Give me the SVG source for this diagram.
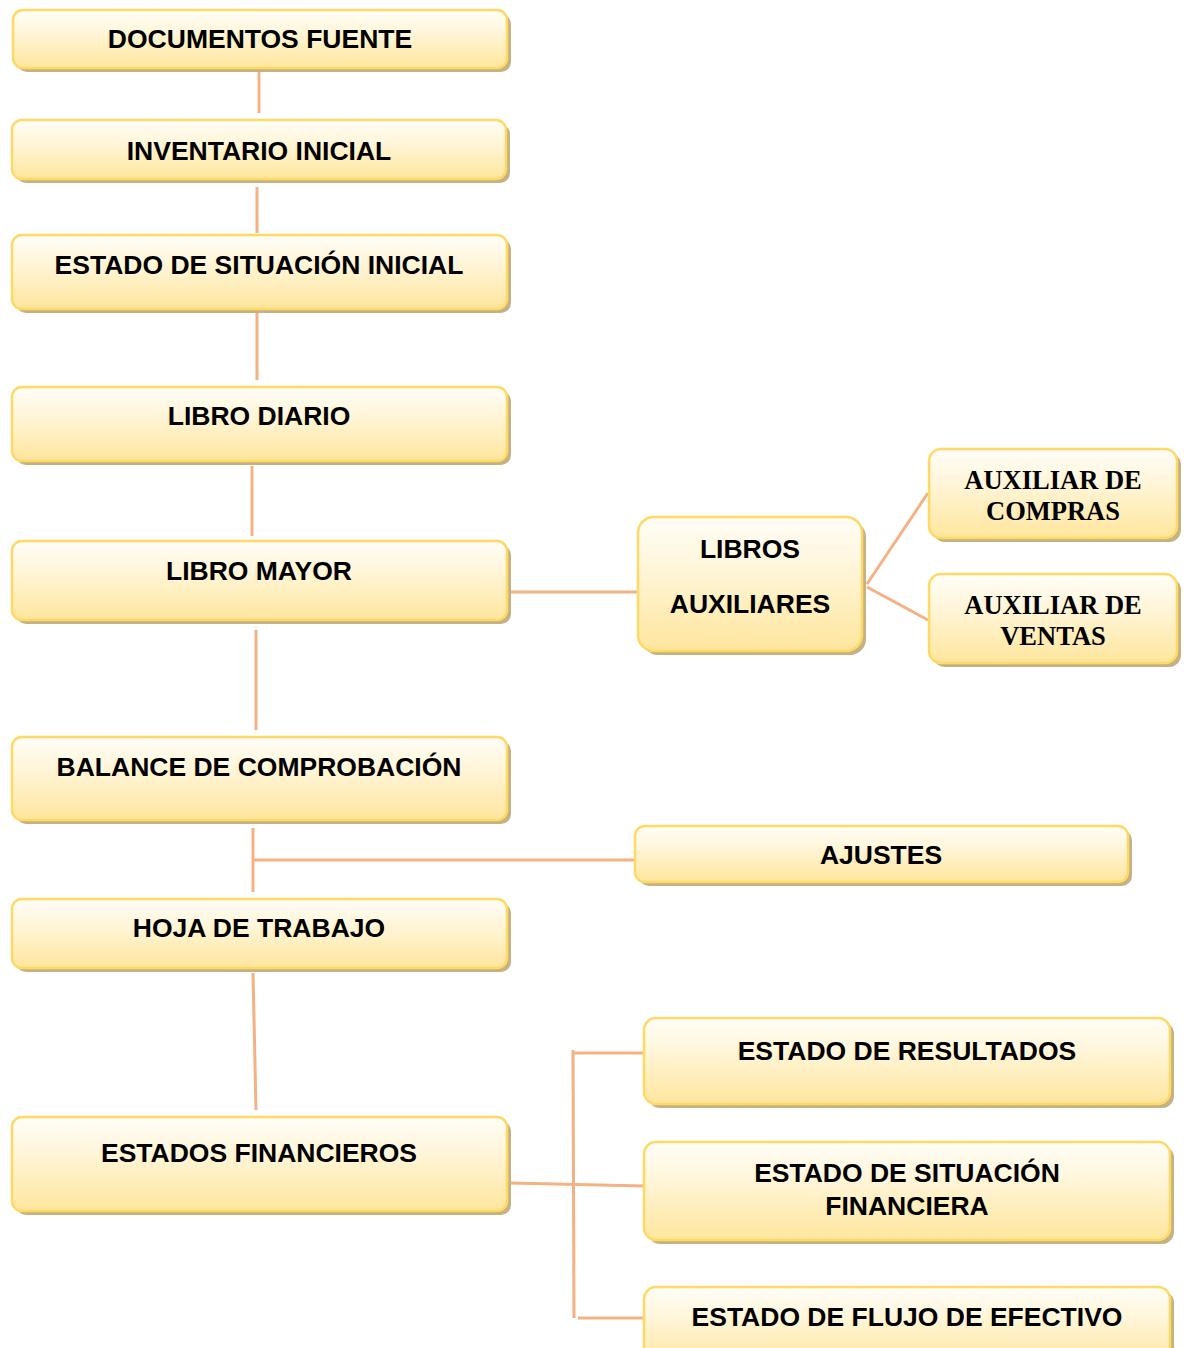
<svg xmlns="http://www.w3.org/2000/svg" width="1186" height="1348" viewBox="0 0 1186 1348">
<defs>
<linearGradient id="g" x1="0" y1="0" x2="0" y2="1">
<stop offset="0" stop-color="#fffdf7"/>
<stop offset="0.35" stop-color="#fff6dc"/>
<stop offset="1" stop-color="#ffe69d"/>
</linearGradient>
<style>
.sh{fill:#c4b283}
.bx{fill:url(#g);stroke:#ffd966;stroke-width:2.5}
.t{font-family:"Liberation Sans",Arial,sans-serif;font-weight:bold;font-size:26.5px;fill:#000;text-anchor:middle}
.s{font-family:"Liberation Serif","Times New Roman",serif;font-weight:bold;font-size:26.5px;fill:#000;text-anchor:middle}
.c{stroke:#f4b183;stroke-width:3;fill:none}
</style>
</defs>
<rect width="1186" height="1348" fill="#fff"/>
<g id="connectors">
<line class="c" x1="259" y1="68" x2="259" y2="113"/>
<line class="c" x1="257" y1="187" x2="257" y2="233"/>
<line class="c" x1="257" y1="313" x2="257" y2="380"/>
<line class="c" x1="252" y1="466" x2="252" y2="536"/>
<line class="c" x1="256" y1="630" x2="256" y2="730"/>
<line class="c" x1="510" y1="592" x2="638" y2="592"/>
<line class="c" x1="867" y1="584" x2="928" y2="493"/>
<line class="c" x1="867" y1="587" x2="928" y2="620"/>
<line class="c" x1="253" y1="828" x2="253" y2="892"/>
<line class="c" x1="253" y1="860" x2="636" y2="860"/>
<line class="c" x1="253" y1="973" x2="256" y2="1110"/>
<line class="c" x1="510" y1="1183" x2="644" y2="1186"/>
<line class="c" x1="573" y1="1050" x2="574" y2="1318"/>
<line class="c" x1="573" y1="1053" x2="644" y2="1053"/>
<line class="c" x1="578" y1="1318" x2="644" y2="1318"/>
</g>
<g id="n1"><rect class="sh" x="17" y="14" width="494" height="58" rx="10"/><rect class="bx" x="13" y="10" width="494" height="58" rx="10"/><text class="t" x="260" y="48">DOCUMENTOS FUENTE</text></g>
<g id="n2"><rect class="sh" x="16" y="124" width="494" height="59" rx="10"/><rect class="bx" x="12" y="120" width="494" height="59" rx="10"/><text class="t" x="259" y="160">INVENTARIO INICIAL</text></g>
<g id="n3"><rect class="sh" x="16" y="239" width="495" height="74" rx="10"/><rect class="bx" x="12" y="235" width="495" height="74" rx="10"/><text class="t" x="259" y="274">ESTADO DE SITUACIÓN INICIAL</text></g>
<g id="n4"><rect class="sh" x="16" y="391" width="495" height="74" rx="10"/><rect class="bx" x="12" y="387" width="495" height="74" rx="10"/><text class="t" x="259" y="425">LIBRO DIARIO</text></g>
<g id="n5"><rect class="sh" x="16" y="545" width="495" height="79" rx="10"/><rect class="bx" x="12" y="541" width="495" height="79" rx="10"/><text class="t" x="259" y="580">LIBRO MAYOR</text></g>
<g id="n6"><rect class="sh" x="642" y="521" width="224" height="134" rx="16"/><rect class="bx" x="638" y="517" width="224" height="134" rx="16"/><text class="t" x="750" y="558">LIBROS</text><text class="t" x="750" y="613">AUXILIARES</text></g>
<g id="n7"><rect class="sh" x="933" y="453" width="248" height="89" rx="12"/><rect class="bx" x="929" y="449" width="248" height="89" rx="12"/><text class="s" x="1053" y="489">AUXILIAR DE</text><text class="s" x="1053" y="520">COMPRAS</text></g>
<g id="n8"><rect class="sh" x="933" y="578" width="248" height="89" rx="12"/><rect class="bx" x="929" y="574" width="248" height="89" rx="12"/><text class="s" x="1053" y="614">AUXILIAR DE</text><text class="s" x="1053" y="645">VENTAS</text></g>
<g id="n9"><rect class="sh" x="16" y="741" width="495" height="83" rx="10"/><rect class="bx" x="12" y="737" width="495" height="83" rx="10"/><text class="t" x="259" y="776">BALANCE DE COMPROBACIÓN</text></g>
<g id="n10"><rect class="sh" x="639" y="830" width="493" height="56" rx="10"/><rect class="bx" x="635" y="826" width="493" height="56" rx="10"/><text class="t" x="881" y="864">AJUSTES</text></g>
<g id="n11"><rect class="sh" x="16" y="903" width="495" height="69" rx="10"/><rect class="bx" x="12" y="899" width="495" height="69" rx="10"/><text class="t" x="259" y="937">HOJA DE TRABAJO</text></g>
<g id="n12"><rect class="sh" x="16" y="1121" width="495" height="94" rx="10"/><rect class="bx" x="12" y="1117" width="495" height="94" rx="10"/><text class="t" x="259" y="1162">ESTADOS FINANCIEROS</text></g>
<g id="n13"><rect class="sh" x="648" y="1022" width="526" height="86" rx="12"/><rect class="bx" x="644" y="1018" width="526" height="86" rx="12"/><text class="t" x="907" y="1060">ESTADO DE RESULTADOS</text></g>
<g id="n14"><rect class="sh" x="648" y="1146" width="526" height="98" rx="12"/><rect class="bx" x="644" y="1142" width="526" height="98" rx="12"/><text class="t" x="907" y="1182">ESTADO DE SITUACIÓN</text><text class="t" x="907" y="1215">FINANCIERA</text></g>
<g id="n15"><rect class="sh" x="648" y="1291" width="526" height="80" rx="12"/><rect class="bx" x="644" y="1287" width="526" height="80" rx="12"/><text class="t" x="907" y="1326">ESTADO DE FLUJO DE EFECTIVO</text></g>
</svg>
